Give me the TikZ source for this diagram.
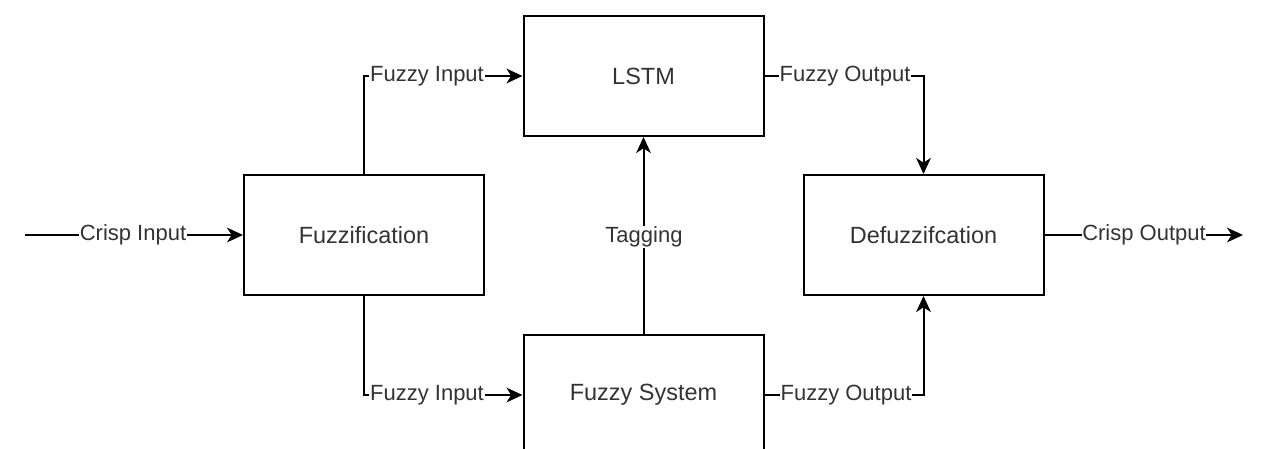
\documentclass[tikz,border=0pt]{standalone}
\usepackage{fontspec}
\setmainfont{Liberation Sans}
\usetikzlibrary{arrows.meta}
\definecolor{txt}{HTML}{333333}
\begin{document}
\begin{tikzpicture}[x=0.75pt,y=-0.75pt,
  blk/.style={draw=black,line width=1.5pt,fill=white,minimum width=180pt,minimum height=90pt,inner sep=0pt,
    text=txt,font=\fontsize{17.6pt}{20pt}\selectfont},
  lbl/.style={fill=white,inner sep=0.5pt,text=txt,font=\fontsize{16.5pt}{19pt}\selectfont},
  conn/.style={line width=1.5pt,draw=black},
  arr/.style={conn,-{Stealth[length=12pt,width=11pt,inset=3.5pt]}}]
\clip (0,0) rectangle (1268,449);
\fill[white] (0,0) rectangle (1268,449);
\node[blk] (fuzz) at (364,235) {Fuzzification};
\node[blk] (lstm) at (643.5,76) {LSTM};
\node[blk] (fsys) at (643.5,395) {Fuzzy System};
\node[blk] (defuzz) at (923.5,235) {Defuzzifcation};
\coordinate (in) at (25,235);
\coordinate (out) at (1243,235);
\draw[arr] (in) -- (fuzz.west);
\draw[arr] (fuzz.north) |- (lstm.west);
\draw[arr] (fuzz.south) |- (fsys.west);
\draw[arr] (fsys.north) -- (lstm.south);
\draw[arr] (lstm.east) -| (defuzz.north);
\draw[arr] (fsys.east) -| (defuzz.south);
\draw[arr] (defuzz.east) -- (out);
\node[lbl] (l1) at (133,235) {Crisp Input};
\node[lbl] (l2) at (427,76) {Fuzzy Input};
\node[lbl] (l3) at (427,395) {Fuzzy Input};
\node[lbl] (l4) at (644,237) {Tagging};
\node[lbl] (l5) at (845,76) {Fuzzy Output};
\node[lbl] (l6) at (846,395) {Fuzzy Output};
\node[lbl] (l7) at (1144,235) {Crisp Output};
\end{tikzpicture}
\end{document}
